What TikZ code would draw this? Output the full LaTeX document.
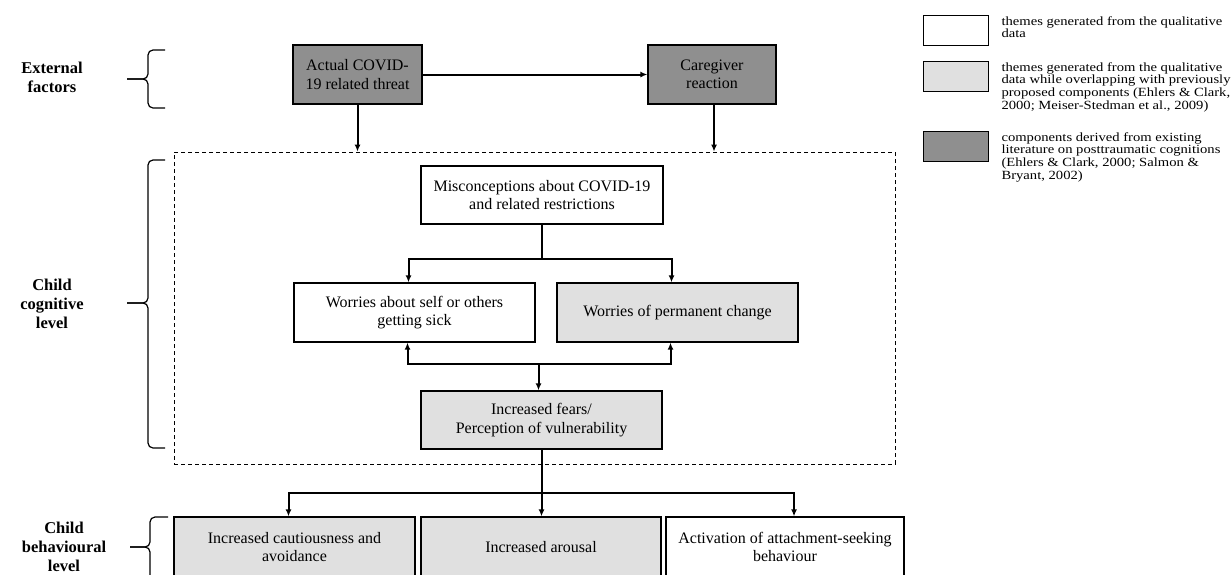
\documentclass[tikz,border=0pt]{standalone}
\usepackage{fontspec}
\setmainfont{Liberation Serif}
\newfontfamily\legendfont[FakeStretch=1.17]{Liberation Serif}
\newcommand\legendsize{\legendfont\fontsize{12.5}{12.8}\selectfont\lineskiplimit=-20pt\relax\lineskip=0pt\relax}
\usetikzlibrary{arrows.meta, positioning, calc}

\definecolor{darkbox}{gray}{0.56}
\definecolor{lightbox}{gray}{0.88}

\begin{document}
\begin{tikzpicture}[x=1pt, y=-1pt,
    box/.style={rectangle, draw, line width=1.3pt, font=\fontsize{16}{18.3}\selectfont, align=center, inner sep=2pt},
    arrow/.style={-{Latex[length=7pt,width=6pt]}, line width=2pt},
    level/.style={font=\fontsize{16.5}{19}\selectfont\bfseries, align=center},
    brace/.style={line width=1.2pt, rounded corners=5pt},
    legbox/.style={rectangle, draw, line width=1.3pt, minimum width=65pt, minimum height=30pt, anchor=north west},
    legtext/.style={font=\legendsize, align=left, anchor=north west, inner sep=0pt},
  ]
  \fill[white] (0,0) rectangle (1231,574);
  \useasboundingbox (0,0) rectangle (1231,574);

  \node[level] (external) at (52,77) {External\\factors};
  \node[level] (cognitive) at (52,304) {Child\\cognitive\\level};
  \node[level] (behaviour) at (64,547) {Child\\behavioural\\level};

  \draw[brace] (165,50) -- (148,50) -- (148,79) -- (127,79);
  \draw[brace] (127,79) -- (148,79) -- (148,108) -- (165,108);
  \draw[brace] (165,160) -- (148,160) -- (148,303) -- (127,303);
  \draw[brace] (127,303) -- (148,303) -- (148,448) -- (165,448);
  \draw[brace] (168,517) -- (150,517) -- (150,547) -- (130,547);
  \draw[brace] (130,547) -- (150,547) -- (150,580) -- (168,580);

  \node[box, fill=darkbox, minimum width=129pt, minimum height=59pt] (threat) at (357.5,74.5) {Actual COVID-\\19 related threat};
  \node[box, fill=darkbox, minimum width=128pt, minimum height=59pt] (carer) at (712,74.5) {Caregiver\\reaction};

  \node[draw, dashed, dash pattern=on 4pt off 3pt, line width=0.8pt, minimum width=721pt, minimum height=312pt] (cogframe) at (534.5,308) {};

  \node[box, minimum width=242pt, minimum height=58pt] (misc) at (542,195) {Misconceptions about COVID-19\\and related restrictions};
  \node[box, minimum width=241pt, minimum height=59pt] (sick) at (414.5,312.5) {Worries about self or others\\getting sick};
  \node[box, fill=lightbox, minimum width=241pt, minimum height=59pt] (perm) at (677.5,312.5) {Worries of permanent change};
  \node[box, fill=lightbox, minimum width=241pt, minimum height=58pt] (fears) at (541.5,420) {Increased fears/\\Perception of vulnerability};

  \node[box, fill=lightbox, minimum width=241pt, minimum height=60pt] (caution) at (294.5,547) {Increased cautiousness and\\avoidance};
  \node[box, fill=lightbox, minimum width=240pt, minimum height=60pt] (arousal) at (541,547) {Increased arousal};
  \node[box, minimum width=238pt, minimum height=60pt] (attach) at (785,547) {Activation of attachment-seeking\\behaviour};

  \draw[arrow] (threat.east) -- (carer.west);
  \draw[arrow] (threat.south) -- (threat.south |- cogframe.north);
  \draw[arrow] ([xshift=2pt]carer.south) -- ([xshift=2pt]carer.south |- cogframe.north);

  \draw[arrow] (misc.south) -- ++(0,34) -| ([xshift=-6pt]sick.north);
  \draw[arrow] (misc.south) -- ++(0,34) -| ([xshift=-6pt]perm.north);

  \coordinate (fork) at ($(fears.north)+(-3,-26)$);
  \draw[arrow] (fork) -- (fork |- fears.north);
  \draw[arrow] (fork) -| ([xshift=-7pt]sick.south);
  \draw[arrow] (fork) -| ([xshift=-7pt]perm.south);

  \draw[arrow] (fears.south) -- ++(0,43) -| ([xshift=-6pt]caution.north);
  \draw[arrow] (fears.south) -- (fears.south |- arousal.north);
  \draw[arrow] (fears.south) -- ++(0,43) -| ([xshift=9pt]attach.north);

  \node[legbox] (leg1) at (923,15) {};
  \node[legbox, fill=lightbox] (leg2) at (923,61) {};
  \node[legbox, fill=darkbox] (leg3) at (923,131) {};
  \node[legtext] (legtext1) at ([xshift=12pt,yshift=-1pt]leg1.north east) {themes generated from the qualitative\\data};
  \node[legtext] (legtext2) at ([xshift=12pt,yshift=-1pt]leg2.north east) {themes generated from the qualitative\\data while overlapping with previously\\proposed components (Ehlers \& Clark,\\2000; Meiser-Stedman et al., 2009)};
  \node[legtext] (legtext3) at ([xshift=12pt,yshift=-1pt]leg3.north east) {components derived from existing\\literature on posttraumatic cognitions\\(Ehlers \& Clark, 2000; Salmon \&\\Bryant, 2002)};
\end{tikzpicture}
\end{document}
